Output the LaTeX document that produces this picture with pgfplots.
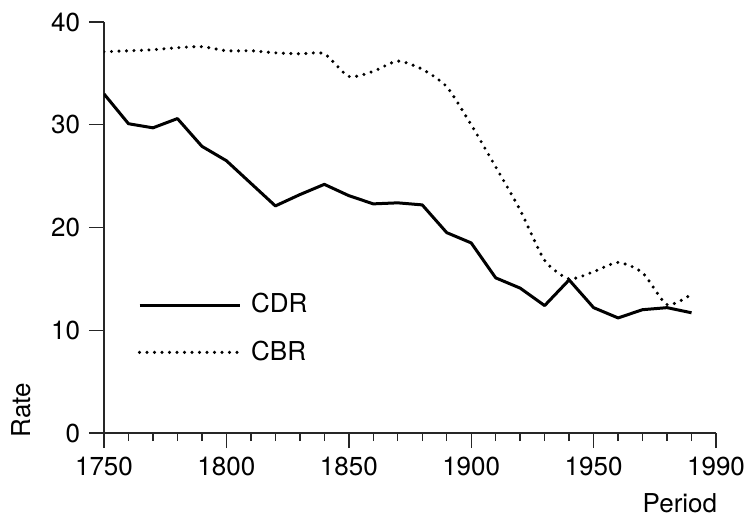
\documentclass[border=0pt]{standalone}
\usepackage{fontspec}
\setmainfont{TeX Gyre Heros}
\usepackage{pgfplots}
\pgfplotsset{compat=1.18}
\pgfplotstableread{
year cdr
1750 33.0
1760 30.1
1770 29.7
1780 30.6
1790 27.9
1800 26.5
1810 24.3
1820 22.1
1830 23.2
1840 24.2
1850 23.1
1860 22.3
1870 22.4
1880 22.2
1890 19.5
1900 18.5
1910 15.1
1920 14.1
1930 12.4
1940 14.9
1950 12.2
1960 11.2
1970 12.0
1980 12.2
1990 11.7
}\cdrdata
\pgfplotstableread{
year cbr
1750 37.1
1760 37.2
1770 37.3
1780 37.5
1790 37.6
1800 37.2
1810 37.2
1820 37.0
1830 36.9
1840 36.9
1850 34.7
1860 35.2
1870 36.2
1880 35.4
1890 33.7
1900 30.0
1910 25.9
1920 21.7
1930 16.8
1940 15.0
1950 15.7
1960 16.6
1970 15.6
1980 12.5
1990 13.5
}\cbrdata
\begin{document}
\fontsize{26}{31}\selectfont
\begin{tikzpicture}[x=1pt,y=1pt]
\useasboundingbox (0,0) rectangle (748,520);
\begin{axis}[
  at={(104pt,87pt)}, anchor=south west,
  scale only axis, width=612pt, height=411pt,
  xmin=1750, xmax=2000, ymin=0, ymax=40,
  axis x line*=bottom, axis y line*=left,
  axis line style={line width=1.6pt, black!85},
  tick align=outside,
  major tick length=15pt, minor tick length=8pt,
  tick style={line width=1.4pt, black!85},
  xtick={1750,1800,1850,1900,1950,2000},
  xticklabels={1750,1800,1850,1900,1950,1990},
  minor x tick num=4,
  ytick={0,10,20,30,40},
  /pgf/number format/assume math mode=true,
  xlabel={Period}, ylabel={Rate},
  xlabel style={at={(axis description cs:0.941,-0.172)}, anchor=center},
  ylabel style={at={(axis description cs:-0.1356,0.056)}, anchor=center},
  legend style={draw=none, fill=none, at={(axis description cs:0.05,0.35)}, anchor=north west,
     row sep=20pt, /tikz/every odd column/.append style={column sep=8pt}},
  legend cell align=left,
  legend image code/.code={\draw[#1] (0pt,0pt) -- (100pt,0pt);},
]
\addplot[black, line width=3pt, line join=round] table[x=year, y=cdr] {\cdrdata};
\addlegendentry{CDR}
\addplot[black, line width=3.4pt, line cap=round, dash pattern=on 0pt off 7.5pt, smooth, tension=0.4] table[x=year, y=cbr] {\cbrdata};
\addlegendentry{CBR}
\end{axis}
\end{tikzpicture}
\end{document}
